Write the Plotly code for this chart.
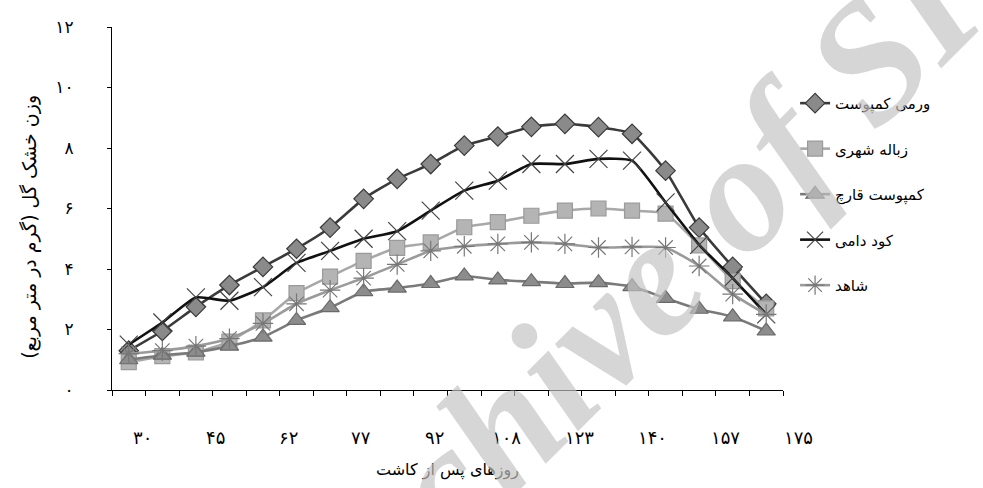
import plotly.graph_objects as go

# ---- data ----
day_labels = ["۳۰", "۴۵", "۶۲", "۷۷", "۹۲", "۱۰۸", "۱۲۳", "۱۴۰", "۱۵۷", "۱۷۵"]
y_tick_vals = [0, 2, 4, 6, 8, 10, 12]
y_tick_text = ["۰", "۲", "۴", "۶", "۸", "۱۰", "۱۲"]

series_names = ["ورمی کمپوست", "زباله شهری", "کمپوست قارچ", "کود دامی", "شاهد"]

vermicompost = [1.3, 1.95, 2.75, 3.47, 4.07, 4.67, 5.37, 6.32, 6.98, 7.47,
                8.08, 8.38, 8.7, 8.8, 8.69, 8.47, 7.25, 5.37, 4.07, 2.85]
municipal = [0.92, 1.12, 1.24, 1.6, 2.3, 3.2, 3.75, 4.27, 4.7, 4.88,
             5.38, 5.55, 5.76, 5.93, 6.0, 5.93, 5.83, 4.78, 3.6, 2.7]
mushroom = [1.0, 1.15, 1.25, 1.45, 1.75, 2.3, 2.72, 3.25, 3.37, 3.52,
            3.77, 3.64, 3.58, 3.52, 3.55, 3.42, 3.03, 2.67, 2.42, 1.95]
manure = [1.5, 2.23, 3.06, 2.95, 3.4, 4.2, 4.6, 5.0, 5.25, 5.93,
          6.59, 6.92, 7.47, 7.47, 7.64, 7.58, 6.2, 4.8, 3.7, 2.5]
control = [1.2, 1.3, 1.45, 1.7, 2.2, 2.85, 3.3, 3.7, 4.15, 4.6,
           4.75, 4.83, 4.88, 4.83, 4.71, 4.73, 4.71, 4.1, 3.17, 2.5]

all_series = [vermicompost, municipal, mushroom, manure, control]
n = len(vermicompost)
xs = [i + 0.5 for i in range(n)]

styles = [
    dict(line="#3a3a3a", marker="diamond", mcolor="#8a8a8a", mline="#3a3a3a", msize=15),
    dict(line="#a8a8a8", marker="square", mcolor="#b4b4b4", mline="#9a9a9a", msize=15),
    dict(line="#7a7a7a", marker="triangle-up", mcolor="#8c8c8c", mline="#6a6a6a", msize=16),
    dict(line="#111111", marker="x-thin-open", mcolor="#444444", mline="#444444", msize=18),
    dict(line="#9a9a9a", marker="asterisk-open", mcolor="#777777", mline="#777777", msize=17),
]

fig = go.Figure()
for name, vals, st in zip(series_names, all_series, styles):
    fig.add_trace(go.Scatter(
        x=xs, y=vals, name=name, mode="lines+markers",
        line=dict(color=st["line"], width=2.6, shape="spline", smoothing=0.5),
        marker=dict(symbol=st["marker"], size=st["msize"], color=st["mcolor"],
                    line=dict(color=st["mline"], width=1.2)),
        legendgroup=name,
    ))

FONT = "DejaVu Sans"

fig.update_layout(
    width=983, height=488,
    margin=dict(l=112, r=200, t=27, b=98),
    paper_bgcolor="white", plot_bgcolor="white",
    font=dict(family=FONT, color="black", size=14),
    showlegend=True,
    legend=dict(x=1.018, y=0.835, xanchor="left", yanchor="top",
                font=dict(size=15, family=FONT), tracegroupgap=23,
                bgcolor="rgba(0,0,0,0)"),
    xaxis=dict(range=[0, n], showgrid=False, zeroline=False, showline=True,
               linecolor="black", linewidth=1,
               tickmode="array", tickvals=list(range(n + 1)),
               showticklabels=False, ticks="outside", ticklen=5, tickcolor="black"),
    yaxis=dict(range=[0, 12], showgrid=False, zeroline=False, showline=True,
               linecolor="black", linewidth=1,
               tickmode="array", tickvals=y_tick_vals, ticktext=y_tick_text,
               ticks="outside", ticklen=4, tickcolor="black",
               tickfont=dict(size=17, family=FONT), ticklabelstandoff=30),
)

# x tick labels (placed evenly under the axis, in paper coordinates)
label_start = 0.92
label_step = 2.17
for i, lab in enumerate(day_labels):
    fig.add_annotation(x=(label_start + i * label_step) / n, xref="paper", y=-0.13, yref="paper",
                       text=lab, showarrow=False, font=dict(size=18, family=FONT),
                       xanchor="center", yanchor="middle")

# axis titles
fig.add_annotation(x=0.5, xref="paper", y=-0.22, yref="paper",
                   text="روزهای پس از کاشت", showarrow=False,
                   font=dict(size=16, family=FONT), xanchor="center", yanchor="middle")
fig.add_annotation(x=-0.122, xref="paper", y=0.45, yref="paper",
                   text="وزن خشک گل (گرم در متر مربع)", showarrow=False, textangle=-90,
                   font=dict(size=19, family=FONT), xanchor="center", yanchor="middle")

# watermark
fig.add_annotation(x=0.815, xref="paper", y=0.33, yref="paper",
                   text="<i><b>Archive of SID</b></i>", showarrow=False, textangle=-45,
                   font=dict(size=170, family="Liberation Serif", color="rgba(195,195,195,0.68)"),
                   xanchor="center", yanchor="middle")

fig.write_html("out.html")
